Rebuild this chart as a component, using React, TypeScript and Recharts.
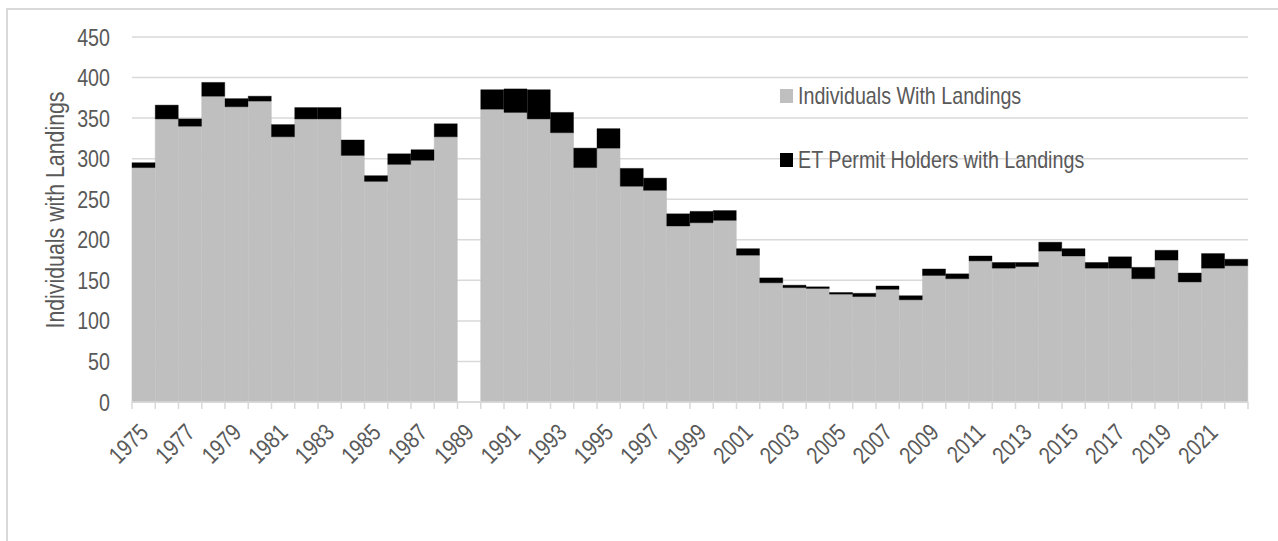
import React from "react";
import { Bar, BarChart, CartesianGrid, XAxis, YAxis } from "recharts";

const years = [
  1975, 1976, 1977, 1978, 1979, 1980, 1981, 1982, 1983, 1984, 1985, 1986,
  1987, 1988, 1989, 1990, 1991, 1992, 1993, 1994, 1995, 1996, 1997, 1998,
  1999, 2000, 2001, 2002, 2003, 2004, 2005, 2006, 2007, 2008, 2009, 2010,
  2011, 2012, 2013, 2014, 2015, 2016, 2017, 2018, 2019, 2020, 2021, 2022,
];

// individuals with landings (no data for 1989)
const individuals = [
  289, 349, 340, 377, 364, 371, 327, 349, 349, 304, 272, 293,
  298, 327, null, 361, 357, 349, 332, 289, 313, 266, 261, 217,
  221, 224, 181, 147, 141, 140, 133, 130, 139, 126, 156, 152,
  174, 165, 167, 186, 180, 165, 165, 152, 175, 148, 165, 168,
];

// ET permit holders with landings
const etPermit = [
  6, 17, 9, 17, 10, 6, 15, 14, 14, 19, 7, 13,
  13, 16, null, 24, 29, 36, 25, 24, 24, 22, 15, 15,
  14, 12, 8, 6, 3, 2, 2, 4, 4, 5, 8, 6,
  6, 7, 5, 11, 9, 7, 14, 14, 12, 11, 18, 8,
];

const yTicks = [0, 50, 100, 150, 200, 250, 300, 350, 400, 450];

const data = years.map((year, i) => ({
  year: String(year),
  individuals: individuals[i],
  et: etPermit[i],
}));

const WIDTH = 1278;
const HEIGHT = 541;
const PLOT_LEFT = 132;
const PLOT_RIGHT = 1248;
const BAND = (PLOT_RIGHT - PLOT_LEFT) / years.length;
const FONT = "'Liberation Sans', Arial, sans-serif";
const NARROW = 0.82; // fake Arial Narrow
const TEXT = "#595959";
const GRID = "#D9D9D9";

function YearTick(props: any) {
  const { x, y, payload, index } = props;
  const i = payload.index ?? index;
  const left = x - BAND / 2;
  const tx = x + 6;
  const ty = y + 32;
  return (
    <g>
      <line x1={left} y1={y} x2={left} y2={y + 7} stroke={GRID} strokeWidth={1.5} />
      {i === years.length - 1 && (
        <line x1={x + BAND / 2} y1={y} x2={x + BAND / 2} y2={y + 7} stroke={GRID} strokeWidth={1.5} />
      )}
      {i % 2 === 0 && (
        <text
          x={0}
          y={0}
          textAnchor="end"
          transform={`translate(${tx}, ${ty}) rotate(-45) scale(${NARROW}, 1)`}
          fill={TEXT}
          fontSize={24}
          fontFamily={FONT}
        >
          {payload.value}
        </text>
      )}
    </g>
  );
}

function ValueTick(props: any) {
  const { x, y, payload } = props;
  return (
    <text
      x={0}
      y={0}
      dy="0.355em"
      textAnchor="end"
      transform={`translate(${x}, ${y}) scale(${NARROW}, 1)`}
      fill={TEXT}
      fontSize={24}
      fontFamily={FONT}
    >
      {payload.value}
    </text>
  );
}

export default function App() {
  return (
    <div style={{ position: "absolute", left: 0, top: 0, width: WIDTH, height: HEIGHT, background: "#fff", overflow: "hidden" }}>
      <div
        style={{
          position: "absolute",
          left: 6,
          top: 8,
          width: WIDTH,
          height: HEIGHT,
          borderTop: `2px solid ${GRID}`,
          borderLeft: `2px solid ${GRID}`,
        }}
      />
      <BarChart
        width={WIDTH}
        height={HEIGHT}
        data={data}
        barCategoryGap={0}
        barGap={0}
        margin={{ top: 37, right: WIDTH - PLOT_RIGHT, bottom: 79, left: PLOT_LEFT - 80 }}
        style={{ position: "absolute", left: 0, top: 0 }}
      >
        <CartesianGrid vertical={false} stroke={GRID} strokeWidth={1.5} />
        <XAxis
          dataKey="year"
          interval={0}
          height={60}
          tickLine={false}
          tickSize={0}
          tickMargin={0}
          axisLine={{ stroke: GRID, strokeWidth: 1.5 }}
          tick={<YearTick />}
        />
        <YAxis
          width={80}
          domain={[0, 450]}
          ticks={yTicks}
          axisLine={false}
          tickLine={false}
          tickMargin={16}
          tick={<ValueTick />}
        />
        <Bar dataKey="individuals" stackId="a" fill="#BFBFBF" stroke="#BFBFBF" strokeWidth={0.6} isAnimationActive={false} />
        <Bar dataKey="et" stackId="a" fill="#000000" stroke="#000000" strokeWidth={0.4} isAnimationActive={false} />
      </BarChart>

      <div
        style={{
          position: "absolute",
          left: 55,
          top: 210,
          transform: `translate(-50%, -50%) rotate(-90deg) scaleX(${NARROW})`,
          whiteSpace: "nowrap",
          fontFamily: FONT,
          fontSize: 26,
          color: TEXT,
        }}
      >
        Individuals with Landings
      </div>

      <div style={{ position: "absolute", left: 780, top: 82, fontFamily: FONT, fontSize: 24, color: TEXT }}>
        <div style={{ display: "flex", alignItems: "center", height: 28 }}>
          <span style={{ width: 13, height: 14, background: "#BFBFBF", marginRight: 5, display: "inline-block" }} />
          <span style={{ display: "inline-block", transform: `scaleX(${NARROW})`, transformOrigin: "left center", whiteSpace: "nowrap" }}>
            Individuals With Landings
          </span>
        </div>
        <div style={{ display: "flex", alignItems: "center", height: 28, marginTop: 36 }}>
          <span style={{ width: 13, height: 14, background: "#000000", marginRight: 5, display: "inline-block" }} />
          <span style={{ display: "inline-block", transform: `scaleX(${NARROW})`, transformOrigin: "left center", whiteSpace: "nowrap" }}>
            ET Permit Holders with Landings
          </span>
        </div>
      </div>
    </div>
  );
}
